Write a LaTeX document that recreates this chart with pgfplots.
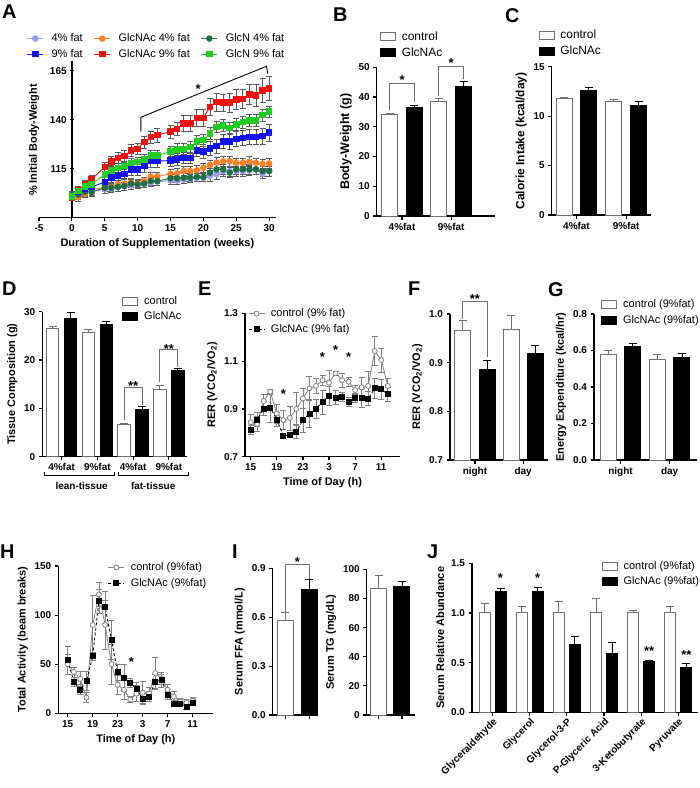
\documentclass[border=0pt]{standalone}
\usepackage{fontspec}
\setmainfont{Liberation Sans}
\usepackage{pgfplots}
\pgfplotsset{compat=1.18}
\usepackage{pgfplotstable}

\definecolor{lav}{HTML}{9B9BF2}
\definecolor{blu}{HTML}{1010F0}
\definecolor{ora}{HTML}{FF7F27}
\definecolor{rd}{HTML}{F01010}
\definecolor{dgr}{HTML}{1E6E46}
\definecolor{grn}{HTML}{22CC22}
\definecolor{ctl}{HTML}{707070}

\newcommand{\tkf}{\bfseries\fontsize{10}{11}\selectfont}
\newcommand{\lbf}{\bfseries\fontsize{11}{12}\selectfont}
\newcommand{\lgf}{\fontsize{11}{12}\selectfont}
\newcommand{\pf}{\bfseries\fontsize{20}{20}\selectfont}
\newcommand{\stf}{\bfseries\fontsize{13}{13}\selectfont}

\tikzset{sig/.style={draw=ctl, line width=0.9pt}}

\pgfplotsset{
 gp/.style={
  scale only axis,
  axis x line=bottom, axis y line=left,
  axis line style={-, line width=1.4pt, black},
  every inner x axis line/.append style={-},
  every inner y axis line/.append style={-},
  every outer x axis line/.append style={-},
  every outer y axis line/.append style={-},
  tick align=outside,
  major tick length=3.5bp,
  every tick/.style={black, line width=1.2pt},
  xticklabel style={font=\tkf},
  yticklabel style={font=\tkf},
  /pgf/number format/assume math mode=true,
  xlabel style={font=\lbf},
  ylabel style={font=\lbf},
  legend style={draw=none, fill=none, font=\lgf, row sep=2bp,
    /tikz/every odd column/.append style={column sep=4bp}},
  legend cell align=left,
  clip=false,
 },
 barleg/.style={legend image code/.code={\draw[##1, line width=0.9pt] (0bp,-4bp) rectangle (15bp,4bp);}},
 linleg/.style={legend image code/.code={\draw[mark repeat=2, mark phase=2, ##1] plot coordinates {(0bp,0bp) (8bp,0bp) (16bp,0bp)};}},
 ctrlbar/.style={ybar, bar shift=0pt, fill=white, draw=ctl, line width=1pt, barleg,
   error bars/y dir=plus, error bars/y explicit,
   error bars/error bar style={line width=0.9pt, ctl},
   error bars/error mark options={rotate=90, mark size=4bp, line width=0.9pt, ctl}},
 glcbar/.style={ybar, bar shift=0pt, fill=black, draw=black, line width=1pt, barleg,
   error bars/y dir=plus, error bars/y explicit,
   error bars/error bar style={line width=0.9pt, black},
   error bars/error mark options={rotate=90, mark size=4bp, line width=0.9pt, black}},
 eb/.style={error bars/y dir=both, error bars/y explicit,
   error bars/error bar style={solid, line width=0.7pt, #1},
   error bars/error mark options={solid, rotate=90, mark size=3bp, line width=0.7pt, #1}},
}

\pgfplotstableread{
w  lav   lavE blu   bluE ora   oraE red   redE dg    dgE grn   grnE
0  100.5 1.5  101.0 1.5  100.2 1.5  100.2 1.5  101.9 1.5 101.0 1.5
1  101.0 1.5  103.3 2.0  100.5 2.0  104.0 2.0  101.9 1.5 103.6 2.0
2  102.8 2.0  105.0 2.0  102.2 2.0  107.1 2.0  103.3 2.0 106.0 2.0
3  103.6 2.0  105.7 2.0  104.5 2.0  109.6 2.0  103.1 2.0 107.0 2.0
5  104.5 2.0  108.2 2.5  105.3 2.0  115.9 2.5  105.3 2.0 112.1 2.5
6  104.8 2.0  110.4 2.5  105.7 2.0  118.6 2.5  105.3 2.0 114.2 2.5
7  105.7 2.0  111.6 2.5  107.0 2.0  120.6 3.0  105.7 2.0 115.5 2.5
8  106.2 2.0  112.4 2.5  107.4 2.0  121.5 3.0  106.2 2.0 116.4 2.5
9  106.7 2.0  114.7 3.0  107.9 2.0  124.4 3.0  107.4 2.0 118.0 2.5
10 107.0 2.0  114.7 3.0  107.4 2.0  125.2 3.0  107.0 2.0 118.4 2.5
11 107.4 2.0  116.4 3.0  108.7 2.0  128.6 3.0  107.4 2.0 119.8 2.5
12 107.9 2.0  118.9 3.0  110.9 2.0  131.2 3.0  108.7 2.0 121.8 2.5
13 108.4 2.0  118.9 3.0  111.1 2.0  132.2 3.5  108.7 2.0 121.8 2.5
15 109.0 2.0  119.2 3.0  112.4 2.5  133.9 3.5  110.1 2.0 123.7 2.5
16 109.0 2.0  119.8 3.0  112.6 2.5  135.4 3.5  110.1 2.0 124.9 3.0
17 109.4 2.0  120.6 3.0  113.8 2.5  138.1 4.0  110.4 2.0 125.2 3.0
18 109.9 2.0  120.6 3.0  113.8 2.5  138.0 4.0  110.4 2.0 126.1 3.0
19 110.4 2.0  124.4 3.0  114.2 2.5  141.0 4.5  110.8 2.0 129.0 3.0
20 110.4 2.0  123.7 3.5  115.5 2.5  141.0 4.5  110.8 2.0 129.6 3.0
21 111.3 2.5  125.4 3.5  116.9 2.5  146.5 4.5  113.0 2.0 132.9 3.0
22 112.1 2.5  126.6 3.5  118.2 2.5  149.0 4.5  114.7 2.5 136.4 3.0
23 113.8 2.5  128.8 3.5  118.9 2.5  148.7 4.5  114.7 2.5 137.1 3.0
24 113.8 2.5  128.8 4.0  118.9 2.5  148.7 5.0  113.0 2.5 135.9 3.0
25 113.8 2.5  130.3 4.0  118.0 2.5  150.4 5.0  114.7 2.5 137.6 3.0
26 113.8 2.5  130.8 4.0  118.0 2.5  150.7 5.0  114.7 2.5 138.8 3.0
27 114.2 2.5  131.2 4.0  118.6 2.5  152.9 5.0  114.7 2.5 139.8 3.0
28 114.7 2.5  131.3 4.0  118.0 2.5  152.4 5.5  114.7 2.5 139.8 3.0
29 112.4 2.5  131.7 4.0  117.5 2.5  155.1 6.0  113.8 2.5 142.4 3.0
30 113.8 2.5  133.4 4.5  117.7 2.5  156.0 6.0  113.8 2.5 144.1 3.0
}\Adata

\pgfplotstableread{
h  c     ce    g     ge
15 0.844 0.035 0.812 0.020
16 0.837 0.030 0.856 0.030
17 0.933 0.030 0.902 0.030
18 0.972 0.010 0.905 0.060
19 0.881 0.040 0.856 0.030
20 0.853 0.040 0.788 0.010
21 0.862 0.050 0.791 0.010
22 0.900 0.070 0.805 0.030
23 0.944 0.040 0.853 0.050
24 0.986 0.050 0.881 0.060
25 0.996 0.030 0.902 0.040
26 1.020 0.020 0.929 0.050
27 1.010 0.050 0.955 0.040
28 1.049 0.010 0.947 0.030
29 1.020 0.030 0.950 0.020
30 1.014 0.020 0.930 0.020
31 0.979 0.020 0.947 0.020
32 0.990 0.040 0.948 0.040
33 0.996 0.060 0.943 0.030
34 1.142 0.060 0.986 0.040
35 1.105 0.050 0.982 0.040
36 0.996 0.030 0.961 0.030
}\Edata

\pgfplotstableread{
h  c   ce g   ge
15 50  10 54  14
16 42  5  32  5
17 35  8  24  5
18 16  5  33  10
19 90  30 58  4
20 121 12 114 12
21 90  25 108 16
22 50  20 75  20
23 29  10 42  8
24 24  10 36  14
25 14  3  31  5
26 20  8  25  7
27 21  12 15  5
28 20  6  17  5
29 41  16 32  8
30 35  5  34  8
31 24  5  19  5
32 17  5  10  3
33 12  3  10  3
34 11  3  7   3
35 13  3  11  3
}\Hdata

\begin{document}
\begin{tikzpicture}
\path[use as bounding box] (0,0) rectangle (700bp,-788bp);

% panel letters
\node[font=\pf, anchor=north west, inner sep=0] at (2bp,-5bp) {A};
\node[font=\pf, anchor=north west, inner sep=0] at (333bp,-8bp) {B};
\node[font=\pf, anchor=north west, inner sep=0] at (505bp,-8bp) {C};
\node[font=\pf, anchor=north west, inner sep=0] at (2bp,-282bp) {D};
\node[font=\pf, anchor=north west, inner sep=0] at (198bp,-282bp) {E};
\node[font=\pf, anchor=north west, inner sep=0] at (408bp,-282bp) {F};
\node[font=\pf, anchor=north west, inner sep=0] at (548bp,-282bp) {G};
\node[font=\pf, anchor=north west, inner sep=0] at (0bp,-545bp) {H};
\node[font=\pf, anchor=north west, inner sep=0] at (232bp,-545bp) {I};
\node[font=\pf, anchor=north west, inner sep=0] at (427bp,-545bp) {J};

% ---------------- A
\begin{axis}[gp, at={(39bp,-217.7bp)}, anchor=south west, width=236.7bp, height=156.7bp,
  xmin=-5, xmax=31, ymin=90, ymax=170,
  axis y line=middle, hide obscured x ticks=false,
  every inner y axis line/.append style={-},
  every inner x axis line/.append style={-},
  y axis line style={draw=none},
  xtick={-5,0,...,30}, ytick={115,140,165},
  xlabel={Duration of Supplementation (weeks)},
  legend columns=3,
  legend style={at={(-0.065,1.2)}, anchor=north west,
    /tikz/every odd column/.append style={column sep=6bp},
    /tikz/every even column/.append style={column sep=9bp}},
  ]
\addplot[color=lav, line width=0.9pt, mark=*, mark size=2.8bp, linleg, eb={black!65}] table[x=w,y=lav,y error=lavE]{\Adata};
\addplot[color=ora, line width=0.9pt, mark=*, mark size=2.8bp, linleg, eb={black!65}] table[x=w,y=ora,y error=oraE]{\Adata};
\addplot[color=dgr, line width=0.9pt, mark=*, mark size=2.8bp, linleg, eb={black!65}] table[x=w,y=dg,y error=dgE]{\Adata};
\addplot[color=blu, line width=0.9pt, mark=square*, mark size=2.8bp, linleg, eb={black!65}] table[x=w,y=blu,y error=bluE]{\Adata};
\addplot[color=rd, line width=0.9pt, mark=square*, mark size=2.8bp, linleg, eb={black!65}] table[x=w,y=red,y error=redE]{\Adata};
\addplot[color=grn, line width=0.9pt, mark=square*, mark size=2.8bp, linleg, eb={black!65}] table[x=w,y=grn,y error=grnE]{\Adata};
\legend{4\% fat, GlcNAc 4\% fat, GlcN 4\% fat, 9\% fat, GlcNAc 9\% fat, GlcN 9\% fat}
\draw[black, line width=1.4pt] (axis cs:0,90) -- (axis cs:0,170);
\draw[black, line width=0.9pt] (axis cs:10.5,134) -- (axis cs:10.5,141.3) -- (axis cs:29.6,167.3) -- (axis cs:29.8,163.5);
\node[font=\stf, anchor=south] at (axis cs:19.2,151.5) {*};
\end{axis}
\node[font=\lbf, rotate=90] at (34bp,-140bp) {\% Initial Body-Weight};

% ---------------- B
\begin{axis}[gp, at={(376.7bp,-216bp)}, anchor=south west, width=118.3bp, height=148.7bp,
  xmin=0.47, xmax=5.28, ymin=0, ymax=50, ytick={0,10,...,50},
  xtick={1.5,3.5}, xticklabels={4\%fat,9\%fat}, bar width=16bp,
  ylabel={Body-Weight (g)}, ylabel style={font=\bfseries\fontsize{12.5}{13}\selectfont},
  legend style={at={(0.0,1.27)}, anchor=north west, font=\fontsize{12}{13}\selectfont}]
\addplot[ctrlbar] table[y error=e]{
x y e
1 34.1 0.3
3 38.5 1.0
};
\addplot[glcbar] table[y error=e]{
x y e
2 36.6 0.7
4 43.5 1.6
};
\legend{control, GlcNAc}
\draw[sig] (axis cs:1,35.8) -- (axis cs:1,44.6) -- (axis cs:2,44.6) -- (axis cs:2,38.3);
\node[font=\stf, anchor=south] at (axis cs:1.5,43.2) {*};
\draw[sig] (axis cs:3,40.3) -- (axis cs:3,50.2) -- (axis cs:4,50.2) -- (axis cs:4,46.2);
\node[font=\stf, anchor=south] at (axis cs:3.5,48.6) {*};
\end{axis}

% ---------------- C
\begin{axis}[gp, at={(551.7bp,-215bp)}, anchor=south west, width=99.3bp, height=148.3bp,
  xmin=0.5, xmax=4.5, ymin=0, ymax=15, ytick={0,5,10,15},
  xtick={1.5,3.5}, xticklabels={4\%fat,9\%fat}, bar width=16bp,
  ylabel={Calorie Intake (kcal/day)}, ylabel style={font=\bfseries\fontsize{12}{13}\selectfont},
  legend style={at={(-0.165,1.275)}, anchor=north west, font=\fontsize{12}{13}\selectfont}]
\addplot[ctrlbar] table[y error=e]{
x y e
1 11.8 0.1
3 11.5 0.2
};
\addplot[glcbar] table[y error=e]{
x y e
2 12.6 0.35
4 11.1 0.35
};
\legend{control, GlcNAc}
\end{axis}

% ---------------- D
\begin{axis}[gp, at={(42.3bp,-456.7bp)}, anchor=south west, width=145bp, height=145bp,
  xmin=0.42, xmax=8.53, ymin=0, ymax=30, ytick={0,10,20,30},
  xtick={1.5,3.5,5.5,7.5}, xticklabels={4\%fat,9\%fat,4\%fat,9\%fat}, bar width=12.5bp,
  ylabel={Tissue Composition (g)},
  legend style={at={(0.53,1.135)}, anchor=north west}]
\addplot[ctrlbar] table[y error=e]{
x y e
1 26.5 0.4
3 25.7 0.7
5 6.6 0.3
7 14.0 0.8
};
\addplot[glcbar] table[y error=e]{
x y e
2 28.5 1.3
4 27.3 0.6
6 9.7 0.8
8 17.8 0.4
};
\legend{control, GlcNAc}
\draw[sig] (axis cs:5,7.6) -- (axis cs:5,14.4) -- (axis cs:6,14.4) -- (axis cs:6,10.8);
\node[font=\stf, anchor=south] at (axis cs:5.5,12.9) {**};
\draw[sig] (axis cs:7,15.4) -- (axis cs:7,22.2) -- (axis cs:8,22.2) -- (axis cs:8,18.6);
\node[font=\stf, anchor=south] at (axis cs:7.5,20.7) {**};
\draw[black, line width=1.1pt] (axis cs:0.53,-3.1) -- (axis cs:0.53,-3.8) -- (axis cs:4.48,-3.8) -- (axis cs:4.48,-3.1);
\draw[black, line width=1.1pt] (axis cs:4.66,-3.1) -- (axis cs:4.66,-3.8) -- (axis cs:8.58,-3.8) -- (axis cs:8.58,-3.1);
\node[font=\tkf] at (axis cs:2.62,-6.1) {lean-tissue};
\node[font=\tkf] at (axis cs:6.62,-6.1) {fat-tissue};
\end{axis}

% ---------------- E
\begin{axis}[gp, at={(245bp,-456.7bp)}, anchor=south west, width=155bp, height=143.4bp,
  xmin=14.13, xmax=37.87, ymin=0.7, ymax=1.3,
  xtick={15,19,23,27,31,35}, xticklabels={15,19,23,3,7,11},
  ytick={0.7,0.9,1.1,1.3},
  yticklabel style={/pgf/number format/.cd, fixed, fixed zerofill, precision=1},
  xlabel={Time of Day (h)}, ylabel={RER (VCO\textsubscript{2}/VO\textsubscript{2})},
  legend style={at={(0.0,1.06)}, anchor=north west}]
\addplot[color=gray, line width=0.8pt, mark=*, mark size=2.5bp, mark options={fill=white, draw=gray, line width=0.8pt}, linleg, eb={gray}] table[x=h,y=c,y error=ce]{\Edata};
\addplot[color=black, line width=0.8pt, densely dashed, mark=square*, mark size=2.5bp, mark options={solid, fill=black}, linleg, eb={gray}] table[x=h,y=g,y error=ge]{\Edata};
\legend{control (9\% fat), GlcNAc (9\% fat)}
\node[font=\stf, anchor=south] at (axis cs:20,0.93) {*};
\node[font=\stf, anchor=south] at (axis cs:26,1.085) {*};
\node[font=\stf, anchor=south] at (axis cs:28,1.115) {*};
\node[font=\stf, anchor=south] at (axis cs:30,1.085) {*};
\end{axis}

% ---------------- F
\begin{axis}[gp, at={(450bp,-460bp)}, anchor=south west, width=98bp, height=146bp,
  clip=true, clip mode=individual,
  xmin=0.465, xmax=4.53, ymin=0.7, ymax=1.0, ytick={0.7,0.8,0.9,1.0},
  yticklabel style={/pgf/number format/.cd, fixed, fixed zerofill, precision=1},
  xtick={1.5,3.5}, xticklabels={night,day}, bar width=16bp,
  ylabel={RER (VCO\textsubscript{2}/VO\textsubscript{2})}]
\addplot[ctrlbar] table[y error=e]{
x y e
1 0.966 0.020
3 0.969 0.029
};
\addplot[glcbar] table[y error=e]{
x y e
2 0.886 0.019
4 0.919 0.016
};
\draw[sig] (axis cs:1,0.99) -- (axis cs:1,1.026) -- (axis cs:2,1.026) -- (axis cs:2,0.912);
\node[font=\stf, anchor=south] at (axis cs:1.5,1.015) {**};
\end{axis}

% ---------------- G
\begin{axis}[gp, at={(594bp,-460bp)}, anchor=south west, width=102.7bp, height=146bp,
  xmin=0.42, xmax=4.6, ymin=0, ymax=0.8, ytick={0,0.2,0.4,0.6,0.8},
  yticklabel style={/pgf/number format/.cd, fixed, fixed zerofill, precision=1},
  xtick={1.5,3.5}, xticklabels={night,day}, bar width=16bp,
  ylabel={Energy Expenditure (kcal/hr)},
  legend style={at={(0.04,1.125)}, anchor=north west}]
\addplot[ctrlbar] table[y error=e]{
x y e
1 0.580 0.018
3 0.553 0.025
};
\addplot[glcbar] table[y error=e]{
x y e
2 0.620 0.020
4 0.562 0.022
};
\legend{control (9\%fat), GlcNAc (9\%fat)}
\end{axis}

% ---------------- H
\begin{axis}[gp, at={(58.3bp,-713.3bp)}, anchor=south west, width=155bp, height=147.3bp,
  xmin=13.5, xmax=38.3, ymin=0, ymax=150,
  xtick={15,19,23,27,31,35}, xticklabels={15,19,23,3,7,11},
  ytick={0,50,100,150},
  xlabel={Time of Day (h)}, ylabel={Total Activity (beam breaks)},
  legend style={at={(0.3,1.05)}, anchor=north west}]
\addplot[color=gray, line width=0.8pt, mark=*, mark size=2.5bp, mark options={fill=white, draw=gray, line width=0.8pt}, linleg, eb={gray}] table[x=h,y=c,y error=ce]{\Hdata};
\addplot[color=black, line width=0.8pt, densely dashed, mark=square*, mark size=2.5bp, mark options={solid, fill=black}, linleg, eb={gray}] table[x=h,y=g,y error=ge]{\Hdata};
\legend{control (9\%fat), GlcNAc (9\%fat)}
\node[font=\stf, anchor=south] at (axis cs:25.2,44) {*};
\end{axis}

% ---------------- I (FFA)
\begin{axis}[gp, at={(272.7bp,-715bp)}, anchor=south west, width=45.6bp, height=146.7bp,
  xmin=0.47, xmax=2.38, ymin=0, ymax=0.9, ytick={0,0.3,0.6,0.9},
  yticklabel style={/pgf/number format/.cd, fixed, fixed zerofill, precision=1},
  xtick={1,2}, xticklabels={}, bar width=16bp,
  ylabel={Serum FFA (mmol/L)}]
\addplot[ctrlbar] table[y error=e]{
x y e
1 0.58 0.05
};
\addplot[glcbar] table[y error=e]{
x y e
2 0.77 0.06
};
\draw[sig] (axis cs:1,0.634) -- (axis cs:1,0.926) -- (axis cs:2,0.926) -- (axis cs:2,0.835);
\node[font=\stf, anchor=south] at (axis cs:1.5,0.89) {*};
\end{axis}

% ---------------- I (TG)
\begin{axis}[gp, at={(366.7bp,-715bp)}, anchor=south west, width=48.3bp, height=145.7bp,
  xmin=0.485, xmax=2.56, ymin=0, ymax=100, ytick={0,20,...,100},
  xtick={1,2}, xticklabels={}, bar width=16bp,
  ylabel={Serum TG (mg/dL)}]
\addplot[ctrlbar] table[y error=e]{
x y e
1 86.5 9.5
};
\addplot[glcbar] table[y error=e]{
x y e
2 88.0 3.5
};
\end{axis}

% ---------------- J
\begin{axis}[gp, at={(472bp,-712.3bp)}, anchor=south west, width=226bp, height=149bp,
  xmin=0.448, xmax=6.53, ymin=0, ymax=1.5, ytick={0,0.5,1.0,1.5},
  yticklabel style={/pgf/number format/.cd, fixed, fixed zerofill, precision=1},
  xtick={1,2,3,4,5,6},
  xticklabels={Glyceraldehyde, Glycerol, Glycerol-3-P, P-Glyceric Acid, 3-Ketobutyrate, Pyruvate},
  xticklabel style={rotate=45, anchor=north east, font=\tkf, inner sep=1bp},
  bar width=11bp,
  ylabel={Serum Relative Abundance},
  legend style={at={(0.56,1.04)}, anchor=north west}]
\addplot[ctrlbar] table[y error=e]{
x y e
0.785 1.0 0.10
1.785 1.0 0.07
2.785 1.0 0.12
3.785 1.0 0.15
4.785 1.0 0.03
5.785 1.0 0.07
};
\addplot[glcbar] table[y error=e]{
x y e
1.215 1.22 0.03
2.215 1.22 0.04
3.215 0.68 0.08
4.215 0.594 0.11
5.215 0.507 0.015
6.215 0.456 0.035
};
\legend{control (9\%fat), GlcNAc (9\%fat)}
\node[font=\stf, anchor=south] at (axis cs:1.215,1.27) {*};
\node[font=\stf, anchor=south] at (axis cs:2.215,1.27) {*};
\node[font=\stf, anchor=south] at (axis cs:5.215,0.54) {**};
\node[font=\stf, anchor=south] at (axis cs:6.215,0.50) {**};
\end{axis}
\end{tikzpicture}
\end{document}
